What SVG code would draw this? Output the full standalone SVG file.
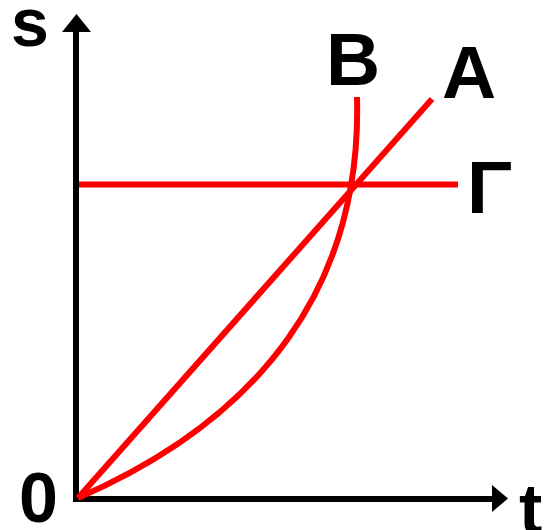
<svg xmlns="http://www.w3.org/2000/svg" width="549" height="530" viewBox="0 0 549 530">
<style>
.lbl{font-family:"Liberation Sans",Arial,sans-serif;font-weight:bold;fill:#000}
.axis{stroke:#000;stroke-width:6;fill:none}
.curve{stroke:#ff0000;stroke-width:6;fill:none}
</style>
<rect width="549" height="530" fill="#fff"/>
<g id="axes">
<line class="axis" x1="76" y1="502" x2="76" y2="30"/>
<polygon points="62,32 76.5,14 91,32" fill="#000"/>
<line class="axis" x1="73" y1="499" x2="494" y2="499"/>
<polygon points="492,485 508,498.5 492,512" fill="#000"/>
</g>
<g id="connectors">
<line id="lineA" class="curve" x1="78" y1="498" x2="432" y2="99"/>
<line id="lineG" class="curve" x1="79" y1="184.5" x2="458" y2="184.5"/>
<path id="curveB" class="curve" d="M78,498 C262,418 362,285 357,97"/>
</g>
<g id="labels">
<text class="lbl" x="11" y="46" font-size="68">s</text>
<text class="lbl" x="519" y="533" font-size="70">t</text>
<text class="lbl" x="19" y="522" font-size="70">0</text>
<text class="lbl" x="326" y="85" font-size="75">B</text>
<text class="lbl" x="442" y="98" font-size="75">A</text>
<text class="lbl" x="467" y="213" font-size="75">Γ</text>
</g>
</svg>
